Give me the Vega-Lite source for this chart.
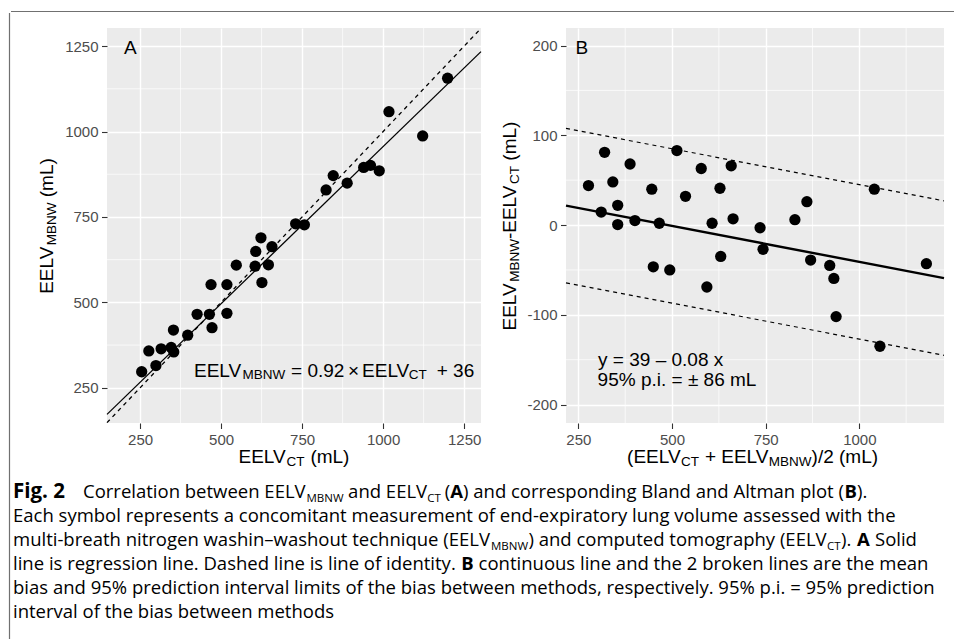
{
  "$schema": "https://vega.github.io/schema/vega-lite/v6.json",
  "background": "white",
  "padding": {"left": 8, "top": 10, "right": 0, "bottom": 0},
  "autosize": {"type": "pad"},
  "bounds": "flush",
  "columns": 2,
  "spacing": {"row": 48, "column": 85},
  "datasets": {
    "ptsA": [
      {"ct": 255, "mbnw": 297}, {"ct": 277, "mbnw": 358}, {"ct": 299, "mbnw": 315}, {"ct": 315, "mbnw": 364},
      {"ct": 346, "mbnw": 368}, {"ct": 354, "mbnw": 355}, {"ct": 353, "mbnw": 419}, {"ct": 397, "mbnw": 404},
      {"ct": 426, "mbnw": 465}, {"ct": 464, "mbnw": 465}, {"ct": 472, "mbnw": 426}, {"ct": 469, "mbnw": 552},
      {"ct": 518, "mbnw": 552}, {"ct": 518, "mbnw": 468}, {"ct": 547, "mbnw": 609}, {"ct": 605, "mbnw": 606},
      {"ct": 607, "mbnw": 649}, {"ct": 623, "mbnw": 689}, {"ct": 626, "mbnw": 558}, {"ct": 646, "mbnw": 610},
      {"ct": 657, "mbnw": 663}, {"ct": 730, "mbnw": 730}, {"ct": 757, "mbnw": 727}, {"ct": 824, "mbnw": 829},
      {"ct": 846, "mbnw": 871}, {"ct": 889, "mbnw": 849}, {"ct": 940, "mbnw": 895}, {"ct": 961, "mbnw": 901},
      {"ct": 988, "mbnw": 885}, {"ct": 1018, "mbnw": 1058}, {"ct": 1122, "mbnw": 987}, {"ct": 1199, "mbnw": 1156}
    ],
    "ptsB": [
      {"mean": 277, "diff": 44}, {"mean": 311, "diff": 14.5}, {"mean": 320, "diff": 81}, {"mean": 342, "diff": 48},
      {"mean": 355, "diff": 22}, {"mean": 355, "diff": 0.5}, {"mean": 388, "diff": 68}, {"mean": 401, "diff": 5},
      {"mean": 446, "diff": 40}, {"mean": 450, "diff": -46.5}, {"mean": 466, "diff": 2}, {"mean": 494, "diff": -50},
      {"mean": 513, "diff": 83}, {"mean": 536, "diff": 32}, {"mean": 578, "diff": 63}, {"mean": 593, "diff": -69},
      {"mean": 607, "diff": 2}, {"mean": 628, "diff": 41}, {"mean": 630, "diff": -35}, {"mean": 658, "diff": 66},
      {"mean": 663, "diff": 7}, {"mean": 735, "diff": -3}, {"mean": 743, "diff": -27}, {"mean": 828, "diff": 6},
      {"mean": 860, "diff": 26}, {"mean": 870, "diff": -39}, {"mean": 921, "diff": -45}, {"mean": 932, "diff": -59.5},
      {"mean": 938, "diff": -102}, {"mean": 1040, "diff": 40}, {"mean": 1055, "diff": -135}, {"mean": 1179, "diff": -43}
    ],
    "minorA": [{"v": 375}, {"v": 625}, {"v": 875}, {"v": 1125}],
    "minorBx": [{"v": 375}, {"v": 625}, {"v": 875}, {"v": 1125}],
    "minorBy": [{"v": -150}, {"v": -50}, {"v": 50}, {"v": 150}]
  },
  "concat": [
    {
      "width": 374,
      "height": 395,
      "view": {"fill": "#EBEBEB", "stroke": null},
      "layer": [
        {
          "data": {"name": "ptsA"},
          "mark": {"type": "circle", "size": 0, "opacity": 0},
          "encoding": {
            "x": {"field": "ct", "type": "quantitative", "scale": {"domain": [148, 1302], "nice": false, "zero": false}, "axis": {"values": [250, 500, 750, 1000, 1250], "format": "d", "title": null}},
            "y": {"field": "mbnw", "type": "quantitative", "scale": {"domain": [147, 1303], "nice": false, "zero": false}, "axis": {"values": [250, 500, 750, 1000, 1250], "format": "d", "title": null}}
          }
        },
        {
          "data": {"name": "minorA"},
          "layer": [
            {"mark": {"type": "rule", "color": "white", "strokeWidth": 0.7}, "encoding": {"x": {"field": "v", "type": "quantitative"}}},
            {"mark": {"type": "rule", "color": "white", "strokeWidth": 0.7}, "encoding": {"y": {"field": "v", "type": "quantitative"}}}
          ]
        },
        {
          "data": {"values": [{}]},
          "layer": [
            {"mark": {"type": "rule", "color": "black", "strokeWidth": 1.3, "strokeDash": [4, 4]}, "encoding": {"x": {"datum": 148}, "y": {"datum": 148}, "x2": {"datum": 1302}, "y2": {"datum": 1302}}},
            {"mark": {"type": "rule", "color": "black", "strokeWidth": 1.3}, "encoding": {"x": {"datum": 148}, "y": {"datum": 172.2}, "x2": {"datum": 1302}, "y2": {"datum": 1233.8}}}
          ]
        },
        {
          "data": {"name": "ptsA"},
          "mark": {"type": "circle", "size": 127, "color": "black", "opacity": 1},
          "encoding": {
            "x": {"field": "ct", "type": "quantitative"},
            "y": {"field": "mbnw", "type": "quantitative"}
          }
        },
        {
          "data": {"values": [{}]},
          "layer": [
            {"mark": {"type": "text", "style": "ann", "text": "A"}, "encoding": {"x": {"datum": 200.5}, "y": {"datum": 1227}}},
            {"mark": {"type": "text", "style": "ann", "text": "EELV"}, "encoding": {"x": {"datum": 416.4}, "y": {"datum": 282.5}}},
            {"mark": {"type": "text", "style": "sub", "text": "MBNW"}, "encoding": {"x": {"datum": 566}, "y": {"datum": 274.9}}},
            {"mark": {"type": "text", "style": "ann", "text": "= 0.92"}, "encoding": {"x": {"datum": 715.8}, "y": {"datum": 282.5}}},
            {"mark": {"type": "text", "style": "ann", "text": "×"}, "encoding": {"x": {"datum": 891.6}, "y": {"datum": 282.5}}},
            {"mark": {"type": "text", "style": "ann", "text": "EELV"}, "encoding": {"x": {"datum": 935}, "y": {"datum": 282.5}}},
            {"mark": {"type": "text", "style": "sub", "text": "CT"}, "encoding": {"x": {"datum": 1079}, "y": {"datum": 274.9}}},
            {"mark": {"type": "text", "style": "ann", "text": "+ 36"}, "encoding": {"x": {"datum": 1165.3}, "y": {"datum": 282.5}}},
            {"mark": {"type": "text", "style": "ann", "text": "EELV"}, "encoding": {"x": {"datum": 553.8}, "y": {"datum": 30.8}}},
            {"mark": {"type": "text", "style": "sub", "text": "CT"}, "encoding": {"x": {"datum": 702}, "y": {"datum": 22.6}}},
            {"mark": {"type": "text", "style": "ann", "text": "(mL)"}, "encoding": {"x": {"datum": 775.6}, "y": {"datum": 30.8}}},
            {"mark": {"type": "text", "style": ["ann", "vert"], "text": "EELV"}, "encoding": {"x": {"datum": -18.6}, "y": {"datum": 525.1}}},
            {"mark": {"type": "text", "style": ["sub", "vert"], "text": "MBNW"}, "encoding": {"x": {"datum": -10.3}, "y": {"datum": 667.3}}},
            {"mark": {"type": "text", "style": ["ann", "vert"], "text": "(mL)"}, "encoding": {"x": {"datum": -18.6}, "y": {"datum": 807.8}}}
          ]
        }
      ]
    },
    {
      "width": 378,
      "height": 395,
      "view": {"fill": "#EBEBEB", "stroke": null},
      "layer": [
        {
          "data": {"name": "ptsB"},
          "mark": {"type": "circle", "size": 0, "opacity": 0},
          "encoding": {
            "x": {"field": "mean", "type": "quantitative", "scale": {"domain": [217, 1226], "nice": false, "zero": false}, "axis": {"values": [250, 500, 750, 1000], "format": "d", "title": null}},
            "y": {"field": "diff", "type": "quantitative", "scale": {"domain": [-220.5, 219.5], "nice": false, "zero": false}, "axis": {"values": [-200, -100, 0, 100, 200], "labelExpr": "'' + datum.value", "title": null}}
          }
        },
        {"data": {"name": "minorBx"}, "mark": {"type": "rule", "color": "white", "strokeWidth": 0.7}, "encoding": {"x": {"field": "v", "type": "quantitative"}}},
        {"data": {"name": "minorBy"}, "mark": {"type": "rule", "color": "white", "strokeWidth": 0.7}, "encoding": {"y": {"field": "v", "type": "quantitative"}}},
        {
          "data": {"values": [{}]},
          "layer": [
            {"mark": {"type": "rule", "color": "black", "strokeWidth": 1.2, "strokeDash": [4, 4]}, "encoding": {"x": {"datum": 217}, "y": {"datum": 107.64}, "x2": {"datum": 1226}, "y2": {"datum": 26.92}}},
            {"mark": {"type": "rule", "color": "black", "strokeWidth": 1.2, "strokeDash": [4, 4]}, "encoding": {"x": {"datum": 217}, "y": {"datum": -64.36}, "x2": {"datum": 1226}, "y2": {"datum": -145.08}}},
            {"mark": {"type": "rule", "color": "black", "strokeWidth": 2.4}, "encoding": {"x": {"datum": 217}, "y": {"datum": 21.64}, "x2": {"datum": 1226}, "y2": {"datum": -59.08}}}
          ]
        },
        {
          "data": {"name": "ptsB"},
          "mark": {"type": "circle", "size": 127, "color": "black", "opacity": 1},
          "encoding": {
            "x": {"field": "mean", "type": "quantitative"},
            "y": {"field": "diff", "type": "quantitative"}
          }
        },
        {
          "data": {"values": [{}]},
          "layer": [
            {"mark": {"type": "text", "style": "ann", "text": "B"}, "encoding": {"x": {"datum": 242.5}, "y": {"datum": 190.8}}},
            {"mark": {"type": "text", "style": "ann", "text": "y = 39 – 0.08 x"}, "encoding": {"x": {"datum": 302.6}, "y": {"datum": -157.4}}},
            {"mark": {"type": "text", "style": "ann", "text": "95% p.i. = ± 86 mL"}, "encoding": {"x": {"datum": 301.3}, "y": {"datum": -179.7}}},
            {"mark": {"type": "text", "style": "ann", "text": "(EELV"}, "encoding": {"x": {"datum": 380.1}, "y": {"datum": -265.3}}},
            {"mark": {"type": "text", "style": "sub", "text": "CT"}, "encoding": {"x": {"datum": 524}, "y": {"datum": -268.4}}},
            {"mark": {"type": "text", "style": "ann", "text": "+"}, "encoding": {"x": {"datum": 588.3}, "y": {"datum": -265.3}}},
            {"mark": {"type": "text", "style": "ann", "text": "EELV"}, "encoding": {"x": {"datum": 631.3}, "y": {"datum": -265.3}}},
            {"mark": {"type": "text", "style": "sub", "text": "MBNW"}, "encoding": {"x": {"datum": 758.5}, "y": {"datum": -268.4}}},
            {"mark": {"type": "text", "style": "ann", "text": ")/2 (mL)"}, "encoding": {"x": {"datum": 872.5}, "y": {"datum": -265.3}}},
            {"mark": {"type": "text", "style": ["ann", "vert"], "text": "EELV"}, "encoding": {"x": {"datum": 83.5}, "y": {"datum": -117.5}}},
            {"mark": {"type": "text", "style": ["sub", "vert"], "text": "MBNW"}, "encoding": {"x": {"datum": 90.7}, "y": {"datum": -63.2}}},
            {"mark": {"type": "text", "style": ["ann", "vert"], "text": "-EELV"}, "encoding": {"x": {"datum": 83.5}, "y": {"datum": -15.6}}},
            {"mark": {"type": "text", "style": ["sub", "vert"], "text": "CT"}, "encoding": {"x": {"datum": 90.7}, "y": {"datum": 45.7}}},
            {"mark": {"type": "text", "style": ["ann", "vert"], "text": "(mL)"}, "encoding": {"x": {"datum": 83.5}, "y": {"datum": 71.7}}}
          ]
        }
      ]
    },
    {
      "width": 374,
      "height": 168,
      "view": {"stroke": null},
      "data": {"values": [{}]},
      "layer": [
        {"mark": {"type": "rule", "color": "#707070", "strokeWidth": 1.2}, "encoding": {
          "x": {"datum": 8.5, "axis": null, "scale": {"domain": [0, 955], "range": [-106, 849], "nice": false, "zero": false}},
          "y": {"datum": 12, "axis": null, "scale": {"domain": [0, 639], "range": [-470, 169], "nice": false, "zero": false}},
          "y2": {"datum": 638}}},
        {"mark": {"type": "rule", "color": "#707070", "strokeWidth": 1.2}, "encoding": {"x": {"datum": 10, "axis": null}, "x2": {"datum": 953}, "y": {"datum": 10.5, "axis": null}}},
        {"mark": {"type": "text", "style": "capb", "fontSize": 20.5, "text": "Fig. 2"}, "encoding": {"x": {"datum": 12, "axis": null}, "y": {"datum": 496.7, "axis": null}}},
        {"mark": {"type": "text", "style": "cap", "text": "Correlation between EELV"}, "encoding": {"x": {"datum": 82, "axis": null}, "y": {"datum": 496.7, "axis": null}}},
        {"mark": {"type": "text", "style": "caps", "text": "MBNW"}, "encoding": {"x": {"datum": 305.5, "axis": null}, "y": {"datum": 500.7, "axis": null}}},
        {"mark": {"type": "text", "style": "cap", "text": "and EELV"}, "encoding": {"x": {"datum": 347.1, "axis": null}, "y": {"datum": 496.7, "axis": null}}},
        {"mark": {"type": "text", "style": "caps", "text": "CT"}, "encoding": {"x": {"datum": 426.2, "axis": null}, "y": {"datum": 500.7, "axis": null}}},
        {"mark": {"type": "text", "style": "cap", "text": "("}, "encoding": {"x": {"datum": 443.8, "axis": null}, "y": {"datum": 496.7, "axis": null}}},
        {"mark": {"type": "text", "style": "capb", "text": "A"}, "encoding": {"x": {"datum": 449.3, "axis": null}, "y": {"datum": 496.7, "axis": null}}},
        {"mark": {"type": "text", "style": "cap", "text": ") and corresponding Bland and Altman plot ("}, "encoding": {"x": {"datum": 462, "axis": null}, "y": {"datum": 496.7, "axis": null}}},
        {"mark": {"type": "text", "style": "capb", "text": "B"}, "encoding": {"x": {"datum": 843.5, "axis": null}, "y": {"datum": 496.7, "axis": null}}},
        {"mark": {"type": "text", "style": "cap", "text": ")."}, "encoding": {"x": {"datum": 856, "axis": null}, "y": {"datum": 496.7, "axis": null}}},
        {"mark": {"type": "text", "style": "cap", "text": "Each symbol represents a concomitant measurement of end-expiratory lung volume assessed with the"}, "encoding": {"x": {"datum": 12, "axis": null}, "y": {"datum": 520.8, "axis": null}}},
        {"mark": {"type": "text", "style": "cap", "text": "multi-breath nitrogen washin–washout technique (EELV"}, "encoding": {"x": {"datum": 12, "axis": null}, "y": {"datum": 544.9, "axis": null}}},
        {"mark": {"type": "text", "style": "caps", "text": "MBNW"}, "encoding": {"x": {"datum": 490, "axis": null}, "y": {"datum": 548.9, "axis": null}}},
        {"mark": {"type": "text", "style": "cap", "text": ") and computed tomography (EELV"}, "encoding": {"x": {"datum": 527.4, "axis": null}, "y": {"datum": 544.9, "axis": null}}},
        {"mark": {"type": "text", "style": "caps", "text": "CT"}, "encoding": {"x": {"datum": 826, "axis": null}, "y": {"datum": 548.9, "axis": null}}},
        {"mark": {"type": "text", "style": "cap", "text": ")."}, "encoding": {"x": {"datum": 840, "axis": null}, "y": {"datum": 544.9, "axis": null}}},
        {"mark": {"type": "text", "style": "capb", "text": "A"}, "encoding": {"x": {"datum": 856, "axis": null}, "y": {"datum": 544.9, "axis": null}}},
        {"mark": {"type": "text", "style": "cap", "text": "Solid"}, "encoding": {"x": {"datum": 874, "axis": null}, "y": {"datum": 544.9, "axis": null}}},
        {"mark": {"type": "text", "style": "cap", "text": "line is regression line. Dashed line is line of identity."}, "encoding": {"x": {"datum": 12, "axis": null}, "y": {"datum": 569, "axis": null}}},
        {"mark": {"type": "text", "style": "capb", "text": "B"}, "encoding": {"x": {"datum": 460.3, "axis": null}, "y": {"datum": 569, "axis": null}}},
        {"mark": {"type": "text", "style": "cap", "text": "continuous line and the 2 broken lines are the mean"}, "encoding": {"x": {"datum": 477.6, "axis": null}, "y": {"datum": 569, "axis": null}}},
        {"mark": {"type": "text", "style": "cap", "text": "bias and 95% prediction interval limits of the bias between methods, respectively. 95% p.i. = 95% prediction"}, "encoding": {"x": {"datum": 12, "axis": null}, "y": {"datum": 593.2, "axis": null}}},
        {"mark": {"type": "text", "style": "cap", "text": "interval of the bias between methods"}, "encoding": {"x": {"datum": 12, "axis": null}, "y": {"datum": 617.3, "axis": null}}}
      ]
    }
  ],
  "config": {
    "view": {"stroke": null},
    "axis": {
      "domain": false,
      "grid": true,
      "gridColor": "#FFFFFF",
      "gridWidth": 1.4,
      "tickColor": "#333333",
      "tickSize": 5.5,
      "tickWidth": 1.1,
      "labelFont": "Liberation Sans",
      "labelFontSize": 15,
      "labelColor": "#4D4D4D",
      "labelPadding": 3.5,
      "labelFlush": false
    },
    "style": {
      "ann": {"font": "Liberation Sans", "fontSize": 19, "fill": "black", "align": "left", "baseline": "alphabetic"},
      "sub": {"font": "Liberation Sans", "fontSize": 13.5, "fill": "black", "align": "left", "baseline": "alphabetic"},
      "vert": {"angle": 270},
      "cap": {"font": "Open Sans", "fontSize": 18.5, "fill": "#231F20", "align": "left", "baseline": "alphabetic"},
      "capb": {"font": "Open Sans", "fontSize": 18.5, "fontWeight": "bold", "fill": "#231F20", "align": "left", "baseline": "alphabetic"},
      "caps": {"font": "Open Sans", "fontSize": 11.5, "fill": "#231F20", "align": "left", "baseline": "alphabetic"}
    }
  }
}
